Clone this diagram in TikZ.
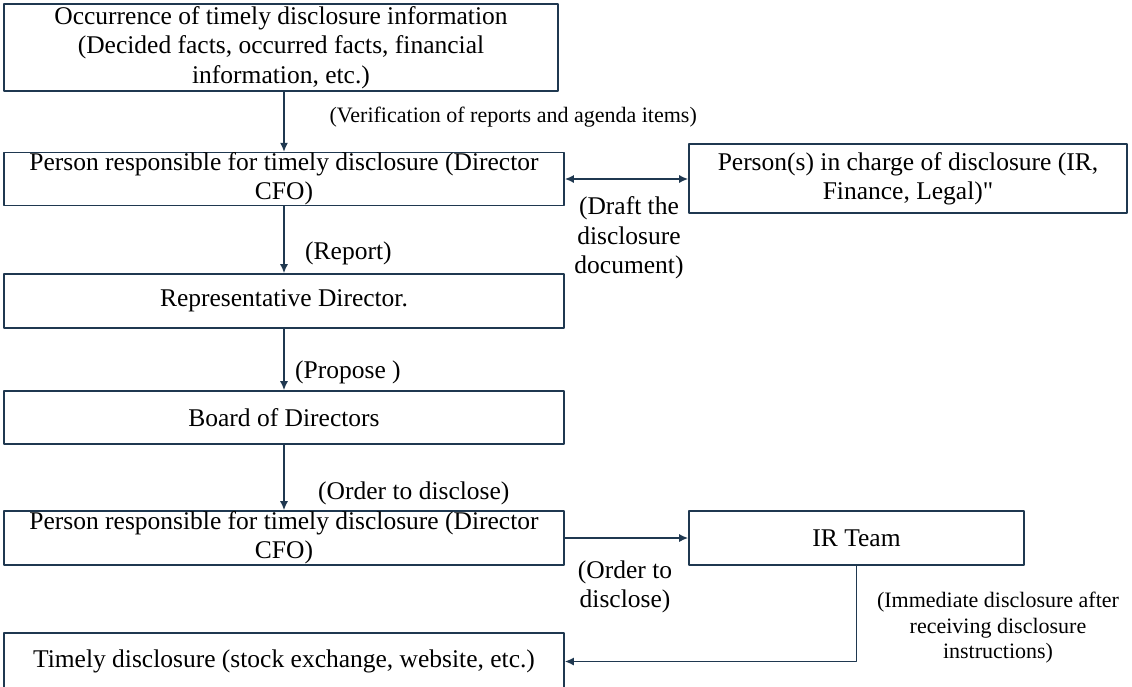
\documentclass[tikz,border=0pt]{standalone}
\usepackage{fontspec}
\setmainfont{Liberation Serif}
\newfontfamily\plainserif{Liberation Serif}
\usetikzlibrary{arrows.meta}
\definecolor{linecol}{RGB}{31,56,80}
\newcommand{\boxfont}{\fontsize{25.5}{29.3}\selectfont}
\newcommand{\notefont}{\fontsize{22}{25.5}\selectfont}

\begin{document}
\begin{tikzpicture}[line cap=round,line join=round,>={Latex[length=9pt,width=8pt]},x=1pt,y=-1pt,
  box/.style={draw=linecol,line width=1.6pt,inner sep=0pt,align=center,font=\boxfont},
  note/.style={inner sep=0pt,align=center,font=\boxfont},
  smallnote/.style={inner sep=0pt,align=center,font=\notefont},
  flow/.style={->,draw=linecol,line width=1.5pt}]
\clip (0,0) rectangle (1132,686);

\node[box,minimum width=554pt,minimum height=87pt] (occ) at (281,47.5) {Occurrence of timely disclosure information\\(Decided facts, occurred facts, financial\\information, etc.)};
\node[box,minimum width=560pt,minimum height=52pt] (resp1) at (284,179) {Person responsible for timely disclosure (Director\\CFO)};
\node[box,minimum width=438pt,minimum height=69pt] (charge) at (908,178.5) {Person(s) in charge of disclosure (IR,\\Finance, Legal){\plainserif"}};
\node[box,minimum width=560pt,minimum height=54pt] (rep) at (284,301) {Representative Director.};
\node[box,minimum width=560pt,minimum height=53pt] (board) at (284,417.5) {Board of Directors};
\node[box,minimum width=560pt,minimum height=54pt] (resp2) at (284,538) {Person responsible for timely disclosure (Director\\CFO)};
\node[box,minimum width=335pt,minimum height=54pt] (ir) at (856.5,538) {IR Team};
\node[box,minimum width=560pt,minimum height=57pt] (timely) at (284,661.5) {Timely disclosure (stock exchange, website, etc.)};

% connectors
\draw[flow] (occ.south -| resp1.north) -- (resp1.north);
\draw[flow,<->] (resp1.east) -- (resp1.east -| charge.west);
\draw[flow] (resp1) -- (rep);
\draw[flow] (rep) -- (board);
\draw[flow] (board) -- (resp2);
\draw[flow] (resp2) -- (ir);
\draw[flow] (ir) |- (timely);

% labels
\node[smallnote,anchor=east] (verif) at (697,117) {(Verification of reports and agenda items)};
\node[note] (draft) at (629,238) {(Draft the\\disclosure\\document)};
\node[note,anchor=west] (report) at (305,253) {(Report)};
\node[note,anchor=west] (propose) at (295,372) {(Propose )};
\node[note,anchor=west] (order) at (318,493) {(Order to disclose)};
\node[note] (ordertwo) at (625,587) {(Order to\\disclose)};
\node[smallnote] (immediate) at (998,628) {(Immediate disclosure after\\receiving disclosure\\instructions)};
\end{tikzpicture}
\end{document}
